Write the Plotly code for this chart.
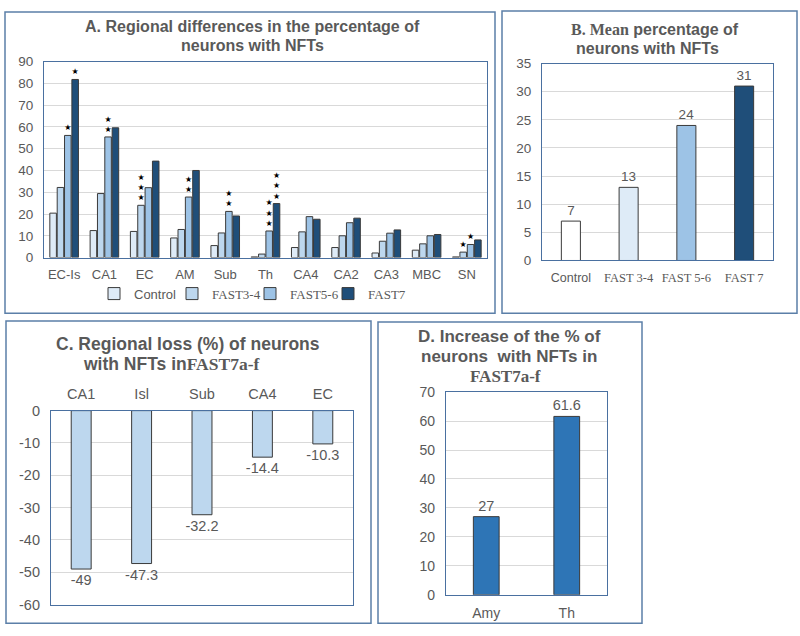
import plotly.graph_objects as go

# ---------------- data ----------------
regions = ["EC-Is", "CA1", "EC", "AM", "Sub", "Th", "CA4", "CA2", "CA3", "MBC", "SN"]
control = [20.4, 12.4, 12.0, 9.0, 5.5, 0.3, 4.6, 4.6, 2.1, 3.4, 0.3]
fast34 = [32.2, 29.4, 24.0, 12.9, 11.3, 1.6, 11.8, 10.0, 7.5, 6.3, 2.5]
fast56 = [56.1, 55.4, 32.1, 27.8, 21.2, 12.2, 18.8, 16.0, 11.2, 10.0, 6.0]
fast7 = [81.8, 59.6, 44.3, 40.0, 19.1, 24.8, 17.6, 18.1, 12.7, 10.6, 8.1]
stars_control = [0, 0, 0, 0, 0, 0, 0, 0, 0, 0, 0]
stars_fast34 = [0, 0, 3, 0, 0, 0, 0, 0, 0, 0, 1]
stars_fast56 = [1, 2, 0, 2, 2, 3, 0, 0, 0, 0, 1]
stars_fast7 = [1, 0, 0, 0, 0, 3, 0, 0, 0, 0, 0]

groups_b = ["Control", "FAST 3-4", "FAST 5-6", "FAST 7"]
means_b = [7, 13, 24, 31]

regions_c = ["CA1", "Isl", "Sub", "CA4", "EC"]
loss_c = [-49, -47.3, -32.2, -14.4, -10.3]

regions_d = ["Amy", "Th"]
increase_d = [27, 61.6]

yticks_a = list(range(0, 91, 10))
yticks_b = list(range(0, 36, 5))
yticks_c = list(range(-60, 1, 10))
yticks_d = list(range(0, 71, 10))

# ---------------- style ----------------
SANS = "Liberation Sans"
SERIF = "Liberation Serif"
GRAY = "#595959"
GRID = "#d9d9d9"
BORDER = "#4a70a0"
BOX = "#5b7fa8"
OUTLINE = "#3a3a3a"
W, H = 800, 636


def px(x):
    return x / W


def py(y):
    return 1 - y / H


def serif(s):
    return '<span style="font-family:%s">%s</span>' % (SERIF, s)


def star_text(counts):
    return ["<br>".join(["★"] * c) if c else "" for c in counts]


fig = go.Figure()

# ---------- Panel A ----------
series = [
    ("Control", control, stars_control, "#deebf7"),
    (serif("FAST3-4"), fast34, stars_fast34, "#bdd7ee"),
    (serif("FAST5-6"), fast56, stars_fast56, "#9dc3e6"),
    (serif("FAST7"), fast7, stars_fast7, "#1f4e79"),
]
for name, vals, st, col in series:
    fig.add_trace(go.Bar(
        x=regions, y=vals, name=name, xaxis="x", yaxis="y",
        marker=dict(color=col, line=dict(color=OUTLINE, width=1)),
        text=star_text(st), textposition="outside", textangle=0,
        constraintext="none", cliponaxis=False,
        textfont=dict(size=8, color="black", family="DejaVu Sans"),
        showlegend=True,
    ))

# ---------- Panel B ----------
fig.add_trace(go.Bar(
    x=groups_b, y=means_b, xaxis="x2", yaxis="y2", width=0.33,
    marker=dict(color=["#ffffff", "#deebf7", "#9dc3e6", "#1f4e79"],
                line=dict(color=OUTLINE, width=1)),
    text=[f"{v:g}" for v in means_b], textposition="outside", textangle=0,
    constraintext="none", cliponaxis=False,
    textfont=dict(size=13.5, color=GRAY, family=SANS),
    showlegend=False,
))

# ---------- Panel C ----------
fig.add_trace(go.Bar(
    x=regions_c, y=loss_c, xaxis="x3", yaxis="y3", width=0.33,
    marker=dict(color="#bdd7ee", line=dict(color=OUTLINE, width=1)),
    text=[f"{v:g}" for v in loss_c], textposition="outside", textangle=0,
    constraintext="none", cliponaxis=False,
    textfont=dict(size=14.5, color=GRAY, family=SANS),
    showlegend=False,
))

# ---------- Panel D ----------
fig.add_trace(go.Bar(
    x=regions_d, y=increase_d, xaxis="x4", yaxis="y4", width=0.32,
    marker=dict(color="#2e75b6", line=dict(color=OUTLINE, width=1)),
    text=[f"{v:g}" for v in increase_d], textposition="outside", textangle=0,
    constraintext="none", cliponaxis=False,
    textfont=dict(size=14.5, color=GRAY, family=SANS),
    showlegend=False,
))


def xax(domain, anchor, size, ticktext=None, tickvals=None, side="bottom"):
    d = dict(domain=domain, anchor=anchor, showline=True, mirror=True,
             linecolor=BORDER, linewidth=1.2, showgrid=False, zeroline=False,
             ticks="", tickfont=dict(size=size, color=GRAY, family=SANS),
             ticklabelstandoff=5, side=side, fixedrange=True)
    if ticktext is not None:
        d.update(tickmode="array", tickvals=tickvals, ticktext=ticktext)
    return d


def yax(domain, anchor, rng, ticks, size):
    return dict(domain=domain, anchor=anchor, range=rng, showline=True,
                mirror=True, linecolor=BORDER, linewidth=1.2, showgrid=True,
                gridcolor=GRID, gridwidth=1, zeroline=False, ticks="",
                tickmode="array", tickvals=ticks,
                ticktext=[f"{t}" for t in ticks],
                tickfont=dict(size=size, color=GRAY, family=SANS),
                ticklabelstandoff=7, fixedrange=True)


fig.update_layout(
    width=W, height=H, autosize=False,
    margin=dict(l=0, r=0, t=0, b=0),
    paper_bgcolor="white", plot_bgcolor="white",
    barmode="group", bargap=0.27, bargroupgap=0.11,
    font=dict(family=SANS, color=GRAY),
    xaxis=xax([px(44), px(487)], "y", 13),
    yaxis=yax([py(256), py(55)], "x", [0, 90], yticks_a, 13.5),
    xaxis2=xax([px(542), px(773)], "y2", 12.5,
               ticktext=[g if g == "Control" else serif(g) for g in groups_b],
               tickvals=groups_b),
    yaxis2=yax([py(259), py(57)], "x2", [0, 35], yticks_b, 13.5),
    xaxis3=xax([px(51), px(353)], "y3", 14.5, side="top"),
    yaxis3=yax([py(612), py(413)], "x3", [-60, 0], yticks_c, 14.5),
    xaxis4=xax([px(446), px(607)], "y4", 14),
    yaxis4=yax([py(602), py(394)], "x4", [0, 70], yticks_d, 14),
    legend=dict(orientation="h", x=px(250), y=py(293), xanchor="center",
                yanchor="middle", font=dict(size=13, color=GRAY, family=SANS),
                itemwidth=30, entrywidth=33, entrywidthmode="pixels",
                bgcolor="rgba(0,0,0,0)", traceorder="normal"),
)

# ---------- panel boxes ----------
boxes = [(5, 4, 495, 313), (502, 3, 797, 313), (6, 321, 371, 631), (378, 322, 642, 631)]
for x0, y0, x1, y1 in boxes:
    fig.add_shape(type="rect", xref="paper", yref="paper",
                  x0=px(x0), x1=px(x1), y0=py(y1), y1=py(y0),
                  line=dict(color=BOX, width=1.5), fillcolor="rgba(0,0,0,0)")

# ---------- titles ----------
titles = [
    ("<b>A. Regional differences in the percentage of</b>", 252, 19, 16),
    ("<b>neurons with NFTs</b>", 252, 38, 16),
    ("<b>" + serif("B. Mean") + " percentage of</b>", 655, 22, 16),
    ("<b>neurons with NFTs</b>", 647, 41.5, 16),
    ("<b>C. Regional loss (%) of neurons</b>", 188, 345, 17.5),
    ("<b>with NFTs in" + serif("FAST7a-f") + "</b>", 171, 365, 17.5),
    ("<b>D. Increase of the % of</b>", 509, 337, 17),
    ("<b>neurons  with NFTs in</b>", 509, 357.5, 17),
    ("<b>" + serif("FAST7a-f") + "</b>", 506, 378, 17),
]
for txt, x, y, s in titles:
    fig.add_annotation(text=txt, x=px(x), y=py(y), xref="paper", yref="paper",
                       xanchor="center", yanchor="middle", showarrow=False,
                       font=dict(size=s, color=GRAY, family=SANS))

fig.write_html(
    "out.html",
    config={"displayModeBar": False, "responsive": False},
    post_script=(
        "var gd=document.getElementById('{plot_id}');"
        "gd.style.position='fixed';gd.style.top='0px';gd.style.left='0px';"
        "gd.style.margin='0px';"
        "var de=document.documentElement, b=document.body;"
        "de.style.margin='0px';de.style.padding='0px';de.style.overflow='hidden';"
        "de.style.height='636px';de.style.width='800px';"
        "b.style.margin='0px';b.style.padding='0px';b.style.overflow='hidden';"
        "b.style.height='636px';b.style.width='800px';"
    ),
)
